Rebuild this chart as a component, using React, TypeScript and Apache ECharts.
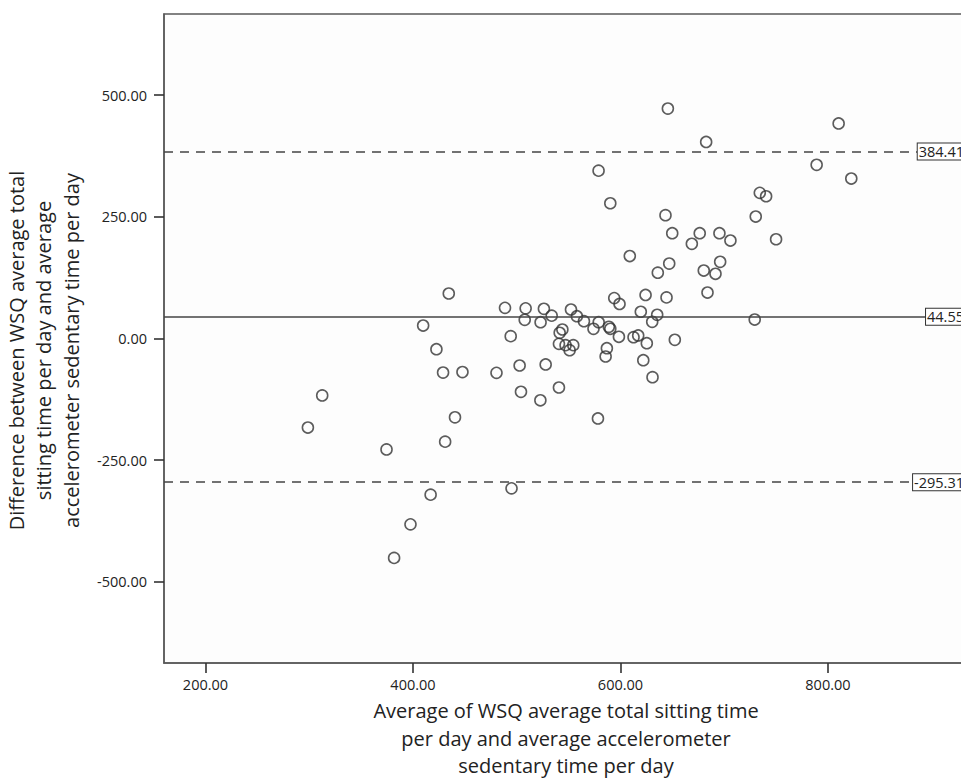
import React, { useEffect, useRef } from "react";
import * as echarts from "echarts";

// Average of the two methods (x) and their difference (y)
const averages: number[] = [
  298.7, 312.5, 374.5, 381.8, 397.6, 409.8, 417.0, 422.6, 429.0, 431.0,
  434.5, 440.5, 447.7, 480.5, 488.7, 494.2, 495.0, 502.8, 504.1, 507.7,
  508.6, 522.8, 523.0, 526.2, 527.9, 533.7, 540.7, 540.7, 541.4, 544.0,
  547.1, 551.0, 552.3, 554.5, 558.0, 564.8, 574.0, 578.3, 578.9, 579.0,
  585.7, 586.9, 588.8, 590.2, 590.2, 594.0, 598.5, 599.1, 609.0, 612.6,
  617.1, 619.6, 622.0, 624.2, 625.4, 630.6, 630.9, 635.4, 636.0, 643.4,
  644.4, 645.7, 647.0, 649.9, 652.4, 668.8, 676.4, 680.3, 682.6, 683.9,
  691.6, 695.4, 696.1, 706.0, 729.4, 730.4, 734.3, 740.4, 750.0, 789.1,
  810.3, 822.5,
];
const differences: number[] = [
  -183, -117, -228, -451, -382, 26.7, -321, -22, -70, -212,
  92.5, -162, -69, -70.6, 63, 4.8, -308, -55.5, -109.6, 38.4,
  62, -127, 33.5, 61, -53.4, 47, -100.7, -11, 11.7, 18.5,
  -13.7, -24, 59.6, -13.7, 45.8, 35.6, 19.9, -164.4, 345, 33.5,
  -37, -20, 24, 20, 278, 83, 3.5, 71, 169.5, 2.7,
  6.2, 55, -44.6, 89.5, -9.7, 34.3, -79.5, 48.7, 135.3, 253.5,
  84.5, 472.6, 154, 216.4, -2.7, 194.6, 216.4, 139.7, 404, 94.5,
  133, 216.4, 157.6, 201.4, 39, 250.7, 299.4, 292.4, 204, 357,
  442, 328.8,
];
const upperLimit = 384.41;
const meanDiff = 44.55;
const lowerLimit = -295.31;
const xTicks: number[] = [200, 400, 600, 800];
const yTicks: number[] = [-500, -250, 0, 250, 500];

const xTitle =
  "Average of WSQ average total sitting time\nper day and average accelerometer\nsedentary time per day";
const yTitle =
  "Difference between WSQ average total\nsitting time per day and average\naccelerometer sedentary time per day";

const FONT = "'Open Sans', 'Noto Sans', sans-serif";
const AXIS = "#5a5a5a";

export default function App() {
  const ref = useRef<HTMLDivElement>(null);
  useEffect(() => {
    if (!ref.current) return;
    const chart = echarts.init(ref.current, undefined, { renderer: "svg" });
    const data = averages.map((x, i) => [x, differences[i]]);
    const lineLabel = {
      show: true,
      position: "insideEnd",
      distance: 3,
      formatter: (p: any) => String(p.value),
      backgroundColor: "#fff",
      borderColor: "#333",
      borderWidth: 1,
      padding: [1, 1, 0, 1],
      fontSize: 14.5,
      fontFamily: FONT,
      color: "#222",
    };
    chart.setOption({
      animation: false,
      backgroundColor: "#fff",
      grid: {
        left: 164,
        top: 14,
        right: 32,
        bottom: 117,
        show: true,
        borderColor: AXIS,
        borderWidth: 1.5,
        backgroundColor: "#fdfdfd",
        outerBoundsMode: "none",
        containLabel: false,
      },
      xAxis: {
        type: "value",
        min: 160,
        max: 935,
        splitLine: { show: false },
        axisLine: { show: true, onZero: false, lineStyle: { color: AXIS, width: 1.5 } },
        axisTick: {
          show: true,
          inside: false,
          length: 10,
          customValues: xTicks,
          lineStyle: { color: "#333", width: 1.6 },
        },
        axisLabel: {
          customValues: xTicks,
          formatter: (v: number) => v.toFixed(2),
          fontSize: 14.5,
          fontFamily: FONT,
          color: "#222",
          margin: 14,
        },
        name: xTitle,
        nameLocation: "middle",
        nameGap: 31,
        nameTextStyle: {
          fontSize: 20,
          fontFamily: FONT,
          color: "#222",
          lineHeight: 27.5,
          align: "center",
        },
      },
      yAxis: {
        type: "value",
        min: -667,
        max: 667,
        splitLine: { show: false },
        axisLine: { show: true, onZero: false, lineStyle: { color: AXIS, width: 1.5 } },
        axisTick: {
          show: true,
          inside: false,
          length: 10,
          customValues: yTicks,
          lineStyle: { color: "#333", width: 1.6 },
        },
        axisLabel: {
          customValues: yTicks,
          formatter: (v: number) => v.toFixed(2),
          fontSize: 14.5,
          fontFamily: FONT,
          color: "#222",
          margin: 17,
        },
        name: yTitle,
        nameLocation: "middle",
        nameGap: 79,
        nameTextStyle: {
          fontSize: 20,
          fontFamily: FONT,
          color: "#222",
          lineHeight: 27.5,
          align: "center",
          padding: [0, 24, 0, 0],
        },
      },
      series: [
        {
          type: "scatter",
          data,
          symbol: "circle",
          symbolSize: 11,
          itemStyle: {
            color: "rgba(0,0,0,0)",
            borderColor: "#333",
            borderWidth: 1.6,
          },
          markLine: {
            silent: true,
            symbol: "none",
            animation: false,
            data: [
              {
                yAxis: upperLimit,
                lineStyle: { type: [9, 7], color: "#444", width: 1.5 },
                label: lineLabel,
              },
              {
                yAxis: meanDiff,
                lineStyle: { type: "solid", color: "#444", width: 1.5 },
                label: lineLabel,
              },
              {
                yAxis: lowerLimit,
                lineStyle: { type: [9, 7], color: "#444", width: 1.5 },
                label: lineLabel,
              },
            ],
          },
        },
      ],
    });
    return () => chart.dispose();
  }, []);
  return (
    <div
      style={{
        position: "fixed",
        left: 0,
        top: 0,
        width: 961,
        height: 780,
        overflow: "hidden",
        background: "#fff",
      }}
    >
      <div ref={ref} style={{ width: 1000, height: 780 }} />
    </div>
  );
}
